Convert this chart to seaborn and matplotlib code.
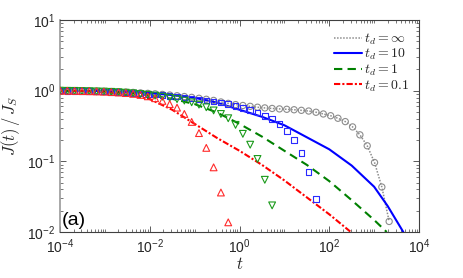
import numpy as np
import matplotlib
matplotlib.use("Agg")
import matplotlib.pyplot as plt
import seaborn as sns
from matplotlib.ticker import FixedLocator, LogLocator, FuncFormatter, NullFormatter

# ---------------- data ----------------
# simulation sample times (common log-spaced grid of markers)
t_markers = np.logspace(-4, 3.335, 46)

J_inf_markers = [1.0, 0.995, 0.993, 0.991, 0.986, 0.982, 0.977, 0.971, 0.964, 0.955,
                 0.944, 0.931, 0.916, 0.902, 0.885, 0.867, 0.847, 0.826, 0.804, 0.780,
                 0.755, 0.728, 0.692, 0.661, 0.635, 0.617, 0.600, 0.583, 0.570, 0.560,
                 0.552, 0.545, 0.537, 0.527, 0.515, 0.495, 0.468, 0.442, 0.407, 0.365,
                 0.307, 0.237, 0.166, 0.0962, 0.0433, 0.0141]
J_10_markers = [1.0, 0.995, 0.993, 0.989, 0.984, 0.979, 0.973, 0.966, 0.957, 0.946,
                0.933, 0.918, 0.902, 0.885, 0.867, 0.847, 0.826, 0.804, 0.780, 0.755,
                0.729, 0.703, 0.676, 0.646, 0.610, 0.569, 0.531, 0.490, 0.442, 0.394,
                0.335, 0.270, 0.200, 0.131, 0.0703, 0.0295]
J_1_markers = [1.0, 0.995, 0.993, 0.989, 0.984, 0.977, 0.971, 0.962, 0.951, 0.936,
               0.918, 0.897, 0.875, 0.851, 0.822, 0.794, 0.759, 0.724, 0.684, 0.635,
               0.582, 0.525, 0.468, 0.407, 0.328, 0.245, 0.172, 0.108, 0.0548, 0.0238]
J_01_markers = [1.0, 0.995, 0.991, 0.986, 0.982, 0.975, 0.966, 0.955, 0.942, 0.925,
                0.902, 0.871, 0.832, 0.782, 0.716, 0.646, 0.575, 0.468, 0.361, 0.251,
                0.155, 0.0822, 0.0362, 0.0137]

# theory curves
t_line_10 = [1e-4, 10**-3.5, 1e-3, 10**-2.5, 1e-2, 10**-1.5, 1e-1, 10**-0.5, 1.0,
             10**0.5, 10.0, 10**1.5, 100.0, 10**2.5, 1000.0, 10**3.3, 10**3.65]
J_line_10 = [1.0, 0.993, 0.984, 0.964, 0.923, 0.867, 0.794, 0.676, 0.537,
             0.427, 0.324, 0.219, 0.148, 0.0871, 0.0437, 0.0234, 0.010]

t_line_1 = [1e-4, 10**-3.5, 1e-3, 10**-2.5, 1e-2, 10**-1.5, 1e-1, 10**-0.5, 1.0,
            10**0.5, 10.0, 10**1.5, 100.0, 10**2.5, 1000.0, 10**3.28]
J_line_1 = [1.0, 0.991, 0.973, 0.933, 0.861, 0.767, 0.646, 0.490, 0.339,
            0.224, 0.141, 0.0891, 0.0525, 0.0282, 0.0148, 0.010]

t_line_01 = [1e-4, 10**-3.5, 1e-3, 10**-2.5, 1e-2, 10**-1.5, 1e-1, 10**-0.5, 1.0,
             10**0.5, 10.0, 10**1.5, 100.0, 10**2.48]
J_line_01 = [1.0, 0.986, 0.955, 0.881, 0.759, 0.537, 0.339, 0.214, 0.141,
             0.0891, 0.0537, 0.0309, 0.0178, 0.010]

labels = [r"$t_d = \infty$", r"$t_d = 10$", r"$t_d = 1$", r"$t_d = 0.1$"]

# ---------------- style ----------------
sns.set_style("ticks")
plt.rcParams["font.family"] = ["Liberation Sans", "DejaVu Sans"]
plt.rcParams["mathtext.fontset"] = "cm"

fig = plt.figure(figsize=(4.63, 2.78), dpi=100)
ax = fig.add_axes([60 / 463, 1 - 232 / 278, (419 - 60) / 463, (232 - 20) / 278])

c_gray = "#8c8c8c"
c_blue = "#0000ff"
c_green = "#008000"
c_red = "#ff0000"

# theory lines
sns.lineplot(x=t_markers, y=J_inf_markers, ax=ax, color=c_gray, linestyle=(0, (1, 1)),
             linewidth=1.1, estimator=None, sort=False, label=labels[0])
sns.lineplot(x=t_line_10, y=J_line_10, ax=ax, color=c_blue, linestyle="-",
             linewidth=1.5, estimator=None, sort=False, label=labels[1])
sns.lineplot(x=t_line_1, y=J_line_1, ax=ax, color=c_green, linestyle=(0, (4, 2.5)),
             linewidth=1.5, estimator=None, sort=False, label=labels[2])
sns.lineplot(x=t_line_01, y=J_line_01, ax=ax, color=c_red, linestyle=(0, (3, 1, 1, 1)),
             linewidth=1.5, estimator=None, sort=False, label=labels[3])

# simulation markers
sns.scatterplot(x=t_markers, y=J_inf_markers, ax=ax, marker="o", s=20,
                facecolor="none", edgecolor=c_gray, linewidth=0.8, zorder=3)
sns.scatterplot(x=t_markers[:len(J_10_markers)], y=J_10_markers, ax=ax, marker="s", s=16,
                facecolor="none", edgecolor="#2a2aff", linewidth=0.8, zorder=3)
sns.scatterplot(x=t_markers[:len(J_1_markers)], y=J_1_markers, ax=ax, marker="v", s=24,
                facecolor="none", edgecolor="#1a9a1a", linewidth=0.8, zorder=3)
sns.scatterplot(x=t_markers[:len(J_01_markers)], y=J_01_markers, ax=ax, marker="^", s=24,
                facecolor="none", edgecolor="#ff2a2a", linewidth=0.8, zorder=3)

ax.set_xscale("log")
ax.set_yscale("log")
ax.set_xlim(1e-4, 1e4)
ax.set_ylim(1e-2, 1e1)

fmt = FuncFormatter(lambda v, p: r"$\mathregular{10^{%d}}$" % int(round(np.log10(v))))
ax.xaxis.set_major_locator(FixedLocator([1e-4, 1e-2, 1e0, 1e2, 1e4]))
ax.xaxis.set_minor_locator(LogLocator(base=10, subs=np.arange(1, 10), numticks=100))
ax.yaxis.set_major_locator(FixedLocator([1e-2, 1e-1, 1e0, 1e1]))
ax.yaxis.set_minor_locator(LogLocator(base=10, subs=np.arange(2, 10), numticks=100))
ax.xaxis.set_major_formatter(fmt)
ax.yaxis.set_major_formatter(fmt)
ax.xaxis.set_minor_formatter(NullFormatter())
ax.yaxis.set_minor_formatter(NullFormatter())

ax.tick_params(which="both", direction="in", top=True, right=True,
               color="#404040", labelcolor="#262626", labelsize=10)
ax.tick_params(which="major", length=4, width=0.6)
ax.tick_params(which="minor", length=2, width=0.5)
ax.tick_params(axis="x", which="major", pad=4)
for sp in ax.spines.values():
    sp.set_color("#404040")
    sp.set_linewidth(0.8)
    sp.set_visible(True)
ax.spines["left"].set_color("#9a9a9a")
ax.spines["left"].set_linewidth(1.2)

ax.set_xlabel(r"$t$", fontsize=12, labelpad=0)
ax.set_ylabel(r"$J(t)\,/\,J_S$", fontsize=12, color="#262626")
ax.yaxis.set_label_coords(-0.105, 0.5)

ax.text(0.006, 0.015, "(a)", transform=ax.transAxes, fontsize=14,
        ha="left", va="bottom", color="black")

handles = ax.lines[:4]
ax.legend(handles=handles, labels=labels, loc="upper right", frameon=False,
          fontsize=10, handlelength=2.0, handletextpad=0.15, labelspacing=0.02,
          borderaxespad=0.5, bbox_to_anchor=(1.008, 1.005))

fig.savefig("out.png", dpi=100)
